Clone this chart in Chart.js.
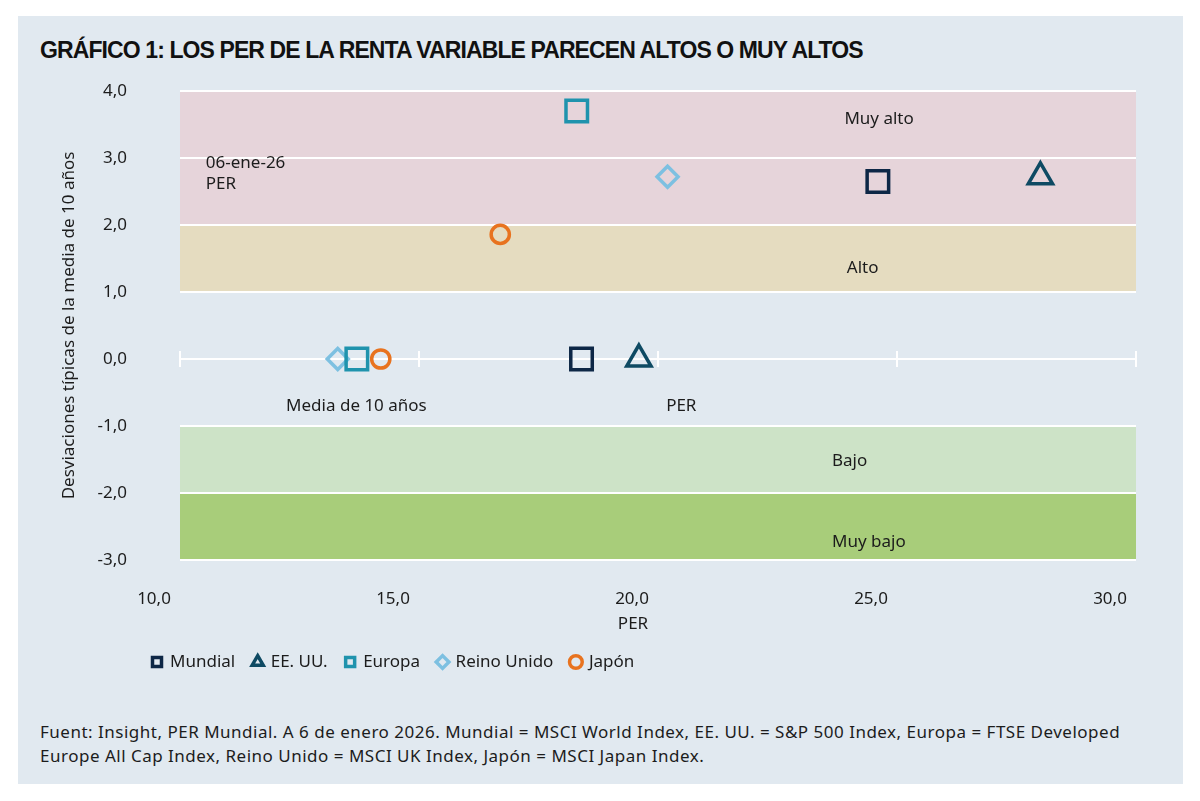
<!DOCTYPE html>
<html lang="es">
<head>
<meta charset="utf-8">
<title>Gráfico 1: Los PER de la renta variable</title>
<script src="https://cdn.jsdelivr.net/npm/chart.js@4.4.1/dist/chart.umd.min.js"></script>
<style>
  html, body { margin: 0; padding: 0; background: #ffffff; }
  body { width: 1200px; height: 801px; position: relative; overflow: hidden; font-family: "Noto Sans", sans-serif; }
  #panel { position: absolute; left: 18px; top: 16px; width: 1165px; height: 768px; background: #e1e9f0; }
  #titulo { position: absolute; left: 40px; top: 39px; margin: 0; font-family: "Liberation Sans Narrow", sans-serif; font-weight: bold; font-size: 23px; line-height: 23px; letter-spacing: -0.9px; color: #111; white-space: nowrap; }
  #grafico { position: absolute; left: 0; top: 0; }
  #fuente { position: absolute; left: 40px; top: 720px; font-size: 17px; line-height: 24px; letter-spacing: 0.5px; color: #1c1c1c; white-space: nowrap; }
</style>
</head>
<body>
<div id="panel"></div>
<h1 id="titulo">GRÁFICO 1: LOS PER DE LA RENTA VARIABLE PARECEN ALTOS O MUY ALTOS</h1>
<canvas id="grafico" width="1200" height="700"></canvas>
<div id="fuente">Fuent: Insight, PER Mundial. A 6 de enero 2026. Mundial = MSCI World Index, EE. UU. = S&amp;P 500 Index, Europa = FTSE Developed<br>Europe All Cap Index, Reino Unido = MSCI UK Index, Japón = MSCI Japan Index.</div>
<script>
// datos
const paises = ["Mundial", "EE. UU.", "Europa", "Reino Unido", "Japón"];
const perMedia10 = [18.4, 19.6, 13.7, 13.3, 14.2];   // media de 10 años (y = 0)
const perActual = [24.6, 28.0, 18.3, 20.2, 16.7];    // 06-ene-26
const desvActual = [2.65, 2.72, 3.70, 2.72, 1.86];   // desviaciones típicas

const bandas = ["Muy alto", "Alto", "Bajo", "Muy bajo"];
const bandaDesde = [2, 1, -2, -3];
const bandaHasta = [4, 2, -1, -2];

const ticksX = [10, 15, 20, 25, 30];
const ticksY = [-3, -2, -1, 0, 1, 2, 3, 4];

// estilos
const colores = ["#0d2746", "#0e4a63", "#1f93ad", "#7dc0e1", "#e8731f"];
const formas = ["rect", "triangle", "rect", "rectRot", "circle"];
const radios = [15.2, 14, 15.2, 10.5, 9.1];
const coloresBanda = ["#e6d4da", "#e5dcc0", "#cde3c7", "#a8cd7a"];

// textos dentro del grafico, en coordenadas de datos
const notas = [
  { text: "Muy alto", x: 23.9, y: 3.58 },
  { text: "Alto", x: 23.95, y: 1.36 },
  { text: "Bajo", x: 23.64, y: -1.53 },
  { text: "Muy bajo", x: 23.64, y: -2.74 },
  { text: "06-ene-26", x: 10.54, y: 2.93 },
  { text: "PER", x: 10.54, y: 2.61 },
  { text: "Media de 10 años", x: 12.22, y: -0.71 },
  { text: "PER", x: 20.17, y: -0.71 }
];

const fmt = v => v.toFixed(1).replace(".", ",");

Chart.defaults.font.family = '"Noto Sans", sans-serif';
Chart.defaults.font.size = 17;
Chart.defaults.color = "#1c1c1c";

const bandasPlugin = {
  id: "bandas",
  afterLayout(chart) {
    // la leyenda empieza bajo el eje y, no en el borde
    chart.legend.left += 134.5;
    chart.legend.right += 134.5;
  },
  beforeDraw(chart) {
    const { ctx, chartArea, scales } = chart;
    ctx.save();
    bandas.forEach((b, i) => {
      const y1 = scales.y.getPixelForValue(bandaHasta[i]);
      const y2 = scales.y.getPixelForValue(bandaDesde[i]);
      ctx.fillStyle = coloresBanda[i];
      ctx.fillRect(chartArea.left, y1, chartArea.right - chartArea.left, y2 - y1);
    });
    ctx.restore();
  },
  beforeDatasetsDraw(chart) {
    const { ctx, chartArea, scales } = chart;
    ctx.save();
    // marcas del eje en y = 0
    const y0 = scales.y.getPixelForValue(0);
    ctx.strokeStyle = "#ffffff";
    ctx.lineWidth = 2;
    ticksX.forEach(t => {
      const x = scales.x.getPixelForValue(t);
      ctx.beginPath();
      ctx.moveTo(x, y0 - 8);
      ctx.lineTo(x, y0 + 8);
      ctx.stroke();
    });
    ctx.font = '17px "Noto Sans", sans-serif';
    ctx.fillStyle = "#1c1c1c";
    ctx.textAlign = "left";
    ctx.textBaseline = "middle";
    notas.forEach(n => {
      ctx.fillText(n.text, scales.x.getPixelForValue(n.x), scales.y.getPixelForValue(n.y));
    });
    ctx.textAlign = "center";
    ctx.fillText("PER", (chartArea.left + chartArea.right) / 2 - 25, 624);
    ctx.restore();
  }
};

new Chart(document.getElementById("grafico"), {
  type: "scatter",
  data: {
    datasets: paises.map((p, i) => ({
      label: p,
      data: [
        { x: perMedia10[i], y: 0 },
        { x: perActual[i], y: desvActual[i] }
      ],
      pointStyle: formas[i],
      pointRadius: radios[i],
      pointHoverRadius: radios[i],
      borderColor: colores[i],
      backgroundColor: "rgba(0,0,0,0)",
      borderWidth: 3.5,
      pointHoverBorderWidth: 3.5
    }))
  },
  options: {
    responsive: false,
    animation: false,
    layout: { padding: { left: 0, right: 64, top: 91, bottom: 19.5 } },
    scales: {
      x: {
        type: "linear",
        min: 10,
        max: 30,
        afterBuildTicks: s => { s.ticks = ticksX.map(v => ({ value: v })); },
        afterFit: s => { s.height = 75.5; },
        grid: { display: false },
        border: { display: false },
        ticks: { padding: 21, labelOffset: -26, callback: v => fmt(v), color: "#1c1c1c" }
      },
      y: {
        type: "linear",
        min: -3,
        max: 4,
        afterBuildTicks: s => { s.ticks = ticksY.map(v => ({ value: v })); },
        afterFit: s => { s.width = 180; },
        grid: { color: "#ffffff", lineWidth: 2, drawTicks: false },
        border: { display: false },
        ticks: { padding: 53, autoSkip: false, callback: v => fmt(v), color: "#1c1c1c" },
        title: {
          display: true,
          text: "Desviaciones típicas de la media de 10 años",
          color: "#1c1c1c",
          font: { size: 17 },
          padding: { top: 58.8, bottom: 0 }
        }
      }
    },
    plugins: {
      legend: {
        position: "bottom",
        align: "start",
        labels: {
          usePointStyle: true,
          boxWidth: 9,
          boxHeight: 9,
          padding: 18,
          color: "#1c1c1c",
          font: { size: 17 }
        }
      },
      tooltip: { enabled: false }
    }
  },
  plugins: [bandasPlugin]
});
</script>
</body>
</html>
